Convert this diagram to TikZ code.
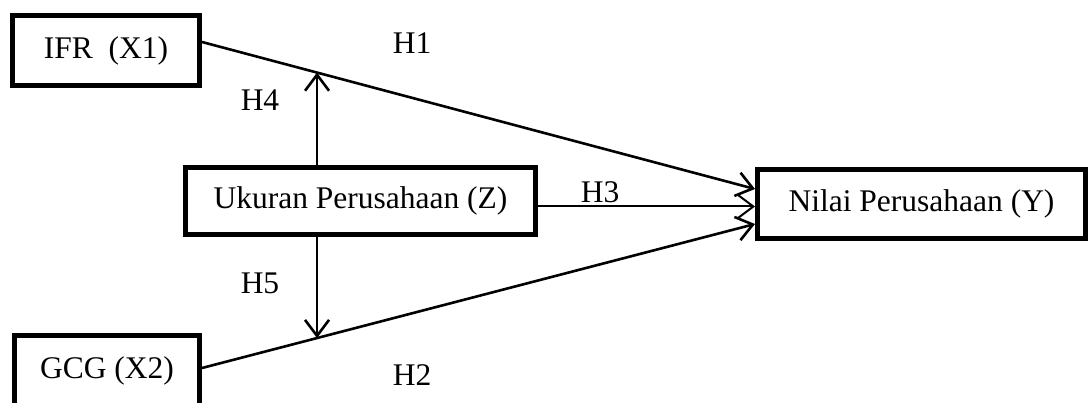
\documentclass[tikz,border=0pt]{standalone}
\usepackage{fontspec}
\setmainfont{Liberation Serif}
\usetikzlibrary{arrows.meta,calc}
\begin{document}
\begin{tikzpicture}[x=1pt,y=-1pt,
  box/.style={draw,line width=5pt,rectangle,inner sep=0pt,font=\fontsize{31.5}{36}\selectfont},
  lbl/.style={inner sep=0pt,font=\fontsize{31.5}{36}\selectfont},
  conn/.style={line width=2.6pt},
  arr/.style={line width=2.6pt,-{Straight Barb[length=16pt,width=24pt]}}]
\useasboundingbox[fill=white] (0,0) rectangle (1091,403);
\node[box,minimum width=187pt,minimum height=70pt] (ifr) at (106,50.5) {IFR~~(X1)};
\node[box,minimum width=185pt,minimum height=70pt] (gcg) at (107,370.5) {GCG (X2)};
\node[box,minimum width=350pt,minimum height=67pt] (uk) at (360.5,201) {Ukuran Perusahaan (Z)};
\node[box,minimum width=328pt,minimum height=69pt] (ny) at (921.5,204) {Nilai Perusahaan (Y)};
\draw[arr] ([yshift=8.5pt]ifr.east) -- coordinate[pos=0.208] (m1) ([yshift=15pt]ny.west);
\draw[arr] ([yshift=2.5pt]gcg.east) -- coordinate[pos=0.208] (m2) ([yshift=-20pt]ny.west);
\draw[arr,line width=2pt] ([yshift=-5.5pt]uk.east) -- ([yshift=-5.5pt]uk.east -| ny.west);
\draw[arr] (uk.north -| m1) -- (m1);
\draw[arr] (uk.south -| m2) -- (m2);
\node[lbl] (h1) at (412,43) {H1};
\node[lbl] (h4) at (260,100) {H4};
\node[lbl] (h5) at (260,283) {H5};
\node[lbl] (h2) at (412,375) {H2};
\node[lbl] (h3) at (600,192) {H3};
\end{tikzpicture}
\end{document}
